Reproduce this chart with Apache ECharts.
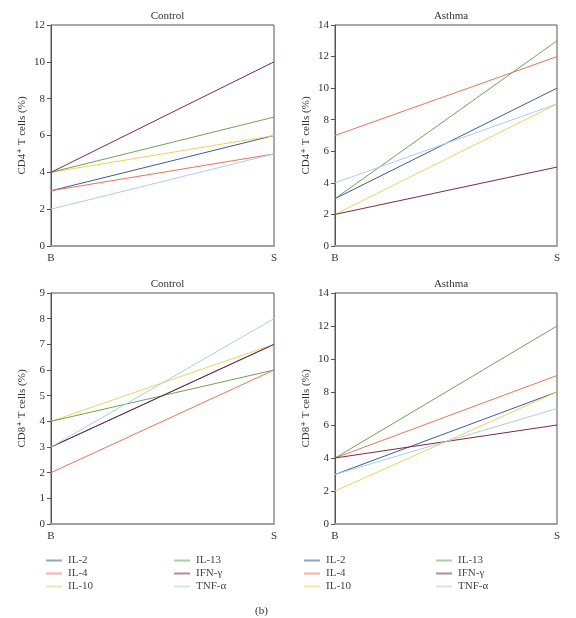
<!DOCTYPE html>
<html><head><meta charset="utf-8">
<script src="https://cdn.jsdelivr.net/npm/echarts@6/dist/echarts.min.js"></script>
<style>html,body{margin:0;padding:0;background:#fff}#c{width:576px;height:618px}</style>
</head><body><div id="c"></div>
<script>
var categories = ['B', 'S'];
var cytokines = ['IL-2', 'IL-4', 'IL-10', 'IL-13', 'IFN-γ', 'TNF-α'];
var colors = ['#3b5e8c', '#e8735a', '#f0d060', '#72a055', '#7a2a45', '#a8cfe6'];
// each panel: values per cytokine [B, S]
var cd4Control = [[3, 6], [3, 5], [4, 6], [4, 7], [4, 10], [2, 5]];
var cd4Asthma  = [[3, 10], [7, 12], [2, 9], [3, 13], [2, 5], [4, 9]];
var cd8Control = [[3, 7], [2, 6], [4, 7], [4, 6], [3, 7], [3, 8]];
var cd8Asthma  = [[3, 8], [4, 9], [2, 8], [4, 12], [4, 6], [3, 7]];
var panelTitles = ['Control', 'Asthma', 'Control', 'Asthma'];
var yNames = ['CD4⁺ T cells (%)', 'CD4⁺ T cells (%)', 'CD8⁺ T cells (%)', 'CD8⁺ T cells (%)'];
var yMax = [12, 14, 9, 14];
var yInterval = [2, 2, 1, 2];
var panels = [cd4Control, cd4Asthma, cd8Control, cd8Asthma];

var font = '"Liberation Serif", "DejaVu Serif", serif';
var grids = [
  {left: 51, top: 25, width: 223, height: 221},
  {left: 335, top: 25, width: 222, height: 221},
  {left: 51, top: 293, width: 223, height: 231},
  {left: 335, top: 293, width: 222, height: 231}
];
var option = {
  animation: false,
  textStyle: {fontFamily: font},
  title: [], grid: [], xAxis: [], yAxis: [], series: [], legend: [], graphic: []
};
grids.forEach(function (g, i) {
  option.grid.push({left: g.left, top: g.top, width: g.width, height: g.height,
    show: true, borderColor: '#555', borderWidth: 1, containLabel: false});
  option.title.push({text: panelTitles[i], left: g.left + g.width / 2, top: g.top - 19,
    textAlign: 'center',
    textStyle: {fontFamily: font, fontSize: 11, fontWeight: 'normal', color: '#333'}});
  option.xAxis.push({type: 'category', gridIndex: i, data: categories, boundaryGap: false,
    axisLine: {show: true, lineStyle: {color: '#a0a0a0', width: 2}},
    axisTick: {show: false},
    axisLabel: {margin: 7, fontFamily: font, fontSize: 11, color: '#333'},
    splitLine: {show: false}});
  option.yAxis.push({type: 'value', gridIndex: i, min: 0, max: yMax[i], interval: yInterval[i],
    name: yNames[i], nameLocation: 'middle', nameGap: 23,
    nameTextStyle: {fontFamily: font, fontSize: 11, color: '#333'},
    axisLine: {show: true, lineStyle: {color: '#555'}},
    axisTick: {show: true, length: 4, lineStyle: {color: '#555'}},
    axisLabel: {margin: 6, fontFamily: font, fontSize: 11, color: '#333'},
    splitLine: {show: false}});
  panels[i].forEach(function (vals, k) {
    option.series.push({type: 'line', name: cytokines[k], xAxisIndex: i, yAxisIndex: i,
      data: vals, showSymbol: false, symbol: 'none',
      lineStyle: {color: colors[k], width: 1}, itemStyle: {color: colors[k]}, z: 3});
  });
});
var legendCols = [
  {left: 46, data: cytokines.slice(0, 3)},
  {left: 174, data: cytokines.slice(3)},
  {left: 304, data: cytokines.slice(0, 3)},
  {left: 436, data: cytokines.slice(3)}
];
legendCols.forEach(function (l) {
  option.legend.push({left: l.left, top: 554, orient: 'vertical', data: l.data, padding: 0,
    icon: 'rect', itemWidth: 16, itemHeight: 2, itemGap: 0,
    itemStyle: {opacity: 0.55},
    textStyle: {fontFamily: font, fontSize: 11, color: '#444', lineHeight: 13, padding: [0, 0, 0, 1]},
    selectedMode: false});
});
option.graphic.push({type: 'text', left: 255, top: 606,
  style: {text: '(b)', font: '11px ' + font, fill: '#333'}});
var chart = echarts.init(document.getElementById('c'), null, {renderer: 'canvas'});
chart.setOption(option);
</script></body></html>
